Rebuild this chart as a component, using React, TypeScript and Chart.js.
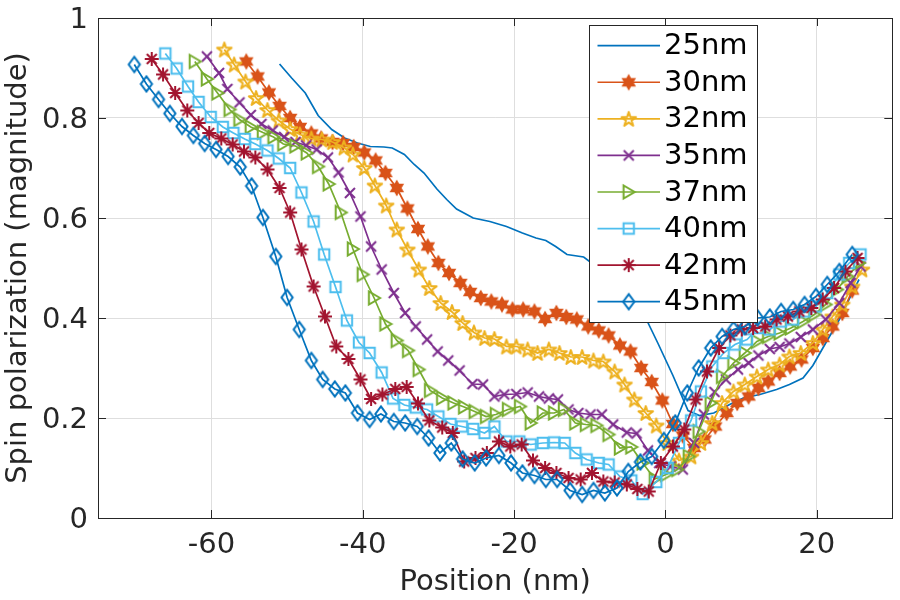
import React, { useEffect, useRef } from 'react';
import { Chart, registerables } from 'chart.js';

Chart.register(...registerables);

// ---------- data ----------
const seriesLabels = ['25nm', '30nm', '32nm', '35nm', '37nm', '40nm', '42nm', '45nm'];

const x25 = [-51.0, -49.4, -47.6, -45.9, -44.1, -42.4, -40.7, -39.0, -37.2, -36.1, -34.5, -33.2, -31.9, -30.2, -28.9, -27.6, -25.4, -23.2, -21.0, -18.9, -17.1, -15.8, -14.5, -13.0, -10.8, -8.0, -5.0, -2.7, -1.0, 1.0, 3.0, 4.5, 6.4, 8.5, 10.3, 12.5, 14.7, 16.4, 18.2, 19.5, 21.2, 23.0, 24.7, 25.6];
const y25 = [0.908, 0.88, 0.85, 0.805, 0.777, 0.76, 0.75, 0.743, 0.742, 0.74, 0.727, 0.707, 0.69, 0.658, 0.637, 0.618, 0.6, 0.593, 0.583, 0.57, 0.56, 0.555, 0.543, 0.527, 0.522, 0.49, 0.44, 0.403, 0.35, 0.285, 0.215, 0.205, 0.21, 0.227, 0.24, 0.247, 0.257, 0.267, 0.28, 0.305, 0.35, 0.397, 0.45, 0.477];

const x30 = [-55.4, -53.9, -52.4, -51.0, -49.6, -48.3, -46.8, -45.5, -44.0, -42.6, -41.2, -39.8, -38.3, -37.0, -35.5, -34.1, -32.7, -31.4, -30.0, -28.6, -27.1, -25.8, -24.4, -23.0, -21.6, -20.2, -18.8, -17.3, -15.9, -14.4, -13.1, -11.7, -10.2, -8.8, -7.5, -6.0, -4.6, -3.2, -1.8, -0.4, 1.0, 2.3, 3.8, 5.2, 6.6, 8.1, 9.5, 11.0, 12.3, 13.6, 15.1, 16.5, 18.0, 19.5, 20.8, 22.1, 23.4, 24.7];
const y30 = [0.913, 0.883, 0.851, 0.824, 0.8, 0.782, 0.769, 0.759, 0.752, 0.75, 0.742, 0.731, 0.715, 0.69, 0.66, 0.619, 0.578, 0.543, 0.51, 0.49, 0.47, 0.452, 0.44, 0.433, 0.427, 0.417, 0.417, 0.413, 0.398, 0.41, 0.402, 0.397, 0.383, 0.375, 0.365, 0.345, 0.333, 0.3, 0.272, 0.235, 0.188, 0.165, 0.14, 0.157, 0.183, 0.21, 0.23, 0.243, 0.26, 0.273, 0.29, 0.303, 0.317, 0.34, 0.36, 0.383, 0.41, 0.455];

const x32 = [-58.3, -57.0, -55.5, -54.1, -52.6, -51.1, -49.6, -48.3, -46.8, -45.4, -44.0, -42.5, -41.3, -39.8, -38.4, -36.9, -35.5, -34.1, -32.6, -31.2, -29.7, -28.2, -26.8, -25.3, -23.9, -22.6, -21.0, -19.7, -18.2, -16.9, -15.4, -14.0, -12.5, -11.0, -9.5, -8.2, -6.7, -5.4, -4.1, -2.6, -1.2, 0.3, 1.8, 3.4, 4.7, 6.2, 7.5, 9.0, 10.5, 12.1, 13.6, 15.1, 16.4, 17.9, 19.5, 20.8, 22.1, 23.4, 24.7, 26.0];
const y32 = [0.937, 0.907, 0.873, 0.84, 0.816, 0.795, 0.778, 0.767, 0.759, 0.757, 0.752, 0.741, 0.727, 0.7, 0.665, 0.625, 0.577, 0.537, 0.497, 0.46, 0.43, 0.412, 0.39, 0.371, 0.36, 0.358, 0.343, 0.343, 0.337, 0.33, 0.337, 0.33, 0.322, 0.322, 0.315, 0.313, 0.293, 0.267, 0.237, 0.21, 0.185, 0.15, 0.115, 0.123, 0.15, 0.19, 0.23, 0.253, 0.267, 0.283, 0.297, 0.307, 0.323, 0.33, 0.35, 0.377, 0.403, 0.427, 0.463, 0.497];

const x35 = [-60.6, -59.0, -57.9, -56.3, -54.8, -53.4, -51.9, -50.4, -48.9, -47.5, -46.1, -44.6, -43.2, -41.7, -40.3, -38.9, -37.5, -35.9, -34.4, -33.0, -31.5, -30.1, -28.7, -27.2, -25.5, -24.1, -22.6, -21.3, -19.7, -18.2, -16.7, -15.4, -14.2, -12.8, -11.5, -9.9, -8.4, -6.9, -5.1, -3.8, -2.3, -0.8, 0.7, 2.3, 3.8, 5.1, 6.5, 8.0, 9.6, 11.0, 12.3, 13.8, 15.1, 16.4, 17.9, 19.5, 21.2, 23.0, 24.5, 25.8];
const y35 = [0.923, 0.89, 0.858, 0.831, 0.806, 0.788, 0.775, 0.762, 0.752, 0.745, 0.737, 0.721, 0.691, 0.65, 0.603, 0.543, 0.497, 0.45, 0.41, 0.383, 0.357, 0.333, 0.315, 0.295, 0.268, 0.267, 0.243, 0.247, 0.248, 0.251, 0.243, 0.239, 0.237, 0.217, 0.21, 0.207, 0.207, 0.187, 0.171, 0.169, 0.135, 0.11, 0.103, 0.097, 0.15, 0.207, 0.252, 0.277, 0.297, 0.31, 0.325, 0.338, 0.342, 0.349, 0.362, 0.377, 0.397, 0.43, 0.47, 0.503];

const x37 = [-62.2, -60.6, -59.2, -57.6, -56.3, -54.8, -53.2, -51.8, -50.5, -48.9, -47.4, -45.9, -44.5, -42.9, -41.3, -40.0, -38.5, -37.0, -35.5, -34.0, -32.6, -31.1, -29.5, -28.0, -26.6, -25.2, -23.7, -22.4, -20.8, -19.2, -17.8, -16.2, -14.7, -13.4, -11.9, -10.5, -9.1, -7.5, -6.0, -4.5, -3.0, -1.4, 0.1, 1.6, 3.1, 4.4, 6.0, 7.5, 9.0, 10.5, 12.1, 13.6, 15.1, 16.6, 18.2, 19.7, 21.2, 22.7, 24.1, 25.6];
const y37 = [0.913, 0.878, 0.85, 0.817, 0.797, 0.782, 0.771, 0.762, 0.748, 0.744, 0.73, 0.703, 0.668, 0.611, 0.538, 0.487, 0.44, 0.388, 0.355, 0.335, 0.297, 0.255, 0.24, 0.23, 0.222, 0.213, 0.203, 0.207, 0.217, 0.223, 0.19, 0.21, 0.21, 0.217, 0.19, 0.187, 0.185, 0.167, 0.14, 0.142, 0.11, 0.078, 0.087, 0.097, 0.123, 0.173, 0.23, 0.283, 0.31, 0.33, 0.353, 0.363, 0.37, 0.38, 0.393, 0.407, 0.427, 0.457, 0.483, 0.51];

const x40 = [-66.1, -64.6, -63.1, -61.7, -60.1, -58.5, -57.1, -55.6, -54.2, -52.6, -51.1, -49.6, -48.1, -46.5, -45.1, -43.6, -42.1, -40.5, -39.1, -37.5, -36.0, -34.5, -33.0, -31.5, -30.0, -28.4, -26.9, -25.4, -23.9, -22.6, -21.0, -19.3, -17.8, -16.2, -14.7, -13.3, -11.9, -10.4, -8.8, -7.5, -6.0, -4.5, -3.0, -1.2, 0.3, 1.8, 3.4, 4.7, 6.2, 7.7, 9.2, 10.8, 12.3, 13.8, 15.3, 16.9, 18.4, 19.9, 21.4, 23.0, 24.3, 25.8];
const y40 = [0.929, 0.899, 0.863, 0.832, 0.802, 0.782, 0.77, 0.758, 0.748, 0.735, 0.719, 0.7, 0.651, 0.593, 0.527, 0.462, 0.395, 0.351, 0.33, 0.291, 0.239, 0.226, 0.221, 0.217, 0.203, 0.188, 0.183, 0.178, 0.17, 0.183, 0.153, 0.153, 0.147, 0.15, 0.151, 0.15, 0.13, 0.117, 0.11, 0.107, 0.083, 0.075, 0.048, 0.072, 0.1, 0.15, 0.195, 0.253, 0.303, 0.33, 0.347, 0.357, 0.38, 0.377, 0.393, 0.397, 0.413, 0.423, 0.45, 0.487, 0.51, 0.527];

const x42 = [-67.9, -66.4, -64.8, -63.2, -61.7, -60.3, -58.7, -57.2, -55.7, -54.2, -52.6, -51.0, -49.6, -48.1, -46.5, -45.0, -43.5, -41.9, -40.3, -38.9, -37.4, -35.7, -34.2, -32.7, -31.2, -29.5, -28.1, -26.6, -25.1, -23.6, -22.0, -20.5, -19.0, -17.5, -15.9, -14.4, -12.8, -11.2, -9.7, -8.2, -6.7, -5.1, -3.7, -2.2, -0.6, 1.0, 2.5, 4.0, 5.5, 7.1, 8.6, 10.1, 11.6, 13.2, 14.7, 16.2, 17.7, 19.3, 20.8, 22.3, 23.8, 25.4];
const y42 = [0.918, 0.887, 0.85, 0.815, 0.79, 0.77, 0.759, 0.747, 0.733, 0.721, 0.697, 0.66, 0.611, 0.537, 0.463, 0.403, 0.343, 0.318, 0.277, 0.238, 0.247, 0.258, 0.262, 0.229, 0.195, 0.181, 0.17, 0.113, 0.12, 0.13, 0.153, 0.143, 0.147, 0.115, 0.1, 0.09, 0.08, 0.077, 0.09, 0.073, 0.071, 0.067, 0.058, 0.053, 0.11, 0.143, 0.177, 0.237, 0.293, 0.34, 0.365, 0.377, 0.38, 0.383, 0.397, 0.403, 0.413, 0.42, 0.437, 0.46, 0.493, 0.52];

const x45 = [-70.2, -68.6, -67.0, -65.5, -63.9, -62.4, -60.9, -59.4, -57.8, -56.2, -54.7, -53.2, -51.5, -50.0, -48.4, -46.8, -45.3, -43.7, -42.3, -40.7, -39.1, -37.6, -35.9, -34.4, -32.8, -31.3, -29.8, -28.3, -26.8, -25.2, -23.7, -22.0, -20.4, -18.9, -17.3, -15.8, -14.3, -12.6, -11.0, -9.5, -8.0, -6.4, -4.9, -3.3, -1.8, -0.2, 1.3, 2.9, 4.4, 6.0, 7.5, 9.0, 10.5, 12.2, 13.8, 15.3, 16.9, 18.4, 19.9, 21.4, 23.0, 24.7];
const y45 = [0.907, 0.868, 0.837, 0.809, 0.783, 0.765, 0.749, 0.737, 0.723, 0.702, 0.664, 0.601, 0.523, 0.441, 0.377, 0.315, 0.277, 0.258, 0.25, 0.21, 0.197, 0.208, 0.193, 0.19, 0.183, 0.16, 0.13, 0.15, 0.118, 0.11, 0.12, 0.125, 0.11, 0.09, 0.085, 0.077, 0.077, 0.055, 0.047, 0.055, 0.05, 0.06, 0.093, 0.112, 0.123, 0.155, 0.19, 0.25, 0.3, 0.34, 0.363, 0.377, 0.383, 0.4, 0.402, 0.413, 0.417, 0.427, 0.443, 0.467, 0.493, 0.527];

const seriesX = [x25, x30, x32, x35, x37, x40, x42, x45];
const seriesY = [y25, y30, y32, y35, y37, y40, y42, y45];

const xTicks = [-60, -40, -20, 0, 20];
const yTicks = [0, 0.2, 0.4, 0.6, 0.8, 1];
const xRange = [-75, 30];
const yRange = [0, 1];
const xTitle = 'Position (nm)';
const yTitle = 'Spin polarization (magnitude)';

// ---------- styles ----------
const COLORS = ['#0072BD', '#D95319', '#EDB120', '#7E2F8E', '#77AC30', '#4DBEEE', '#A2142F', '#0072BD'];
const MARKERS = ['none', 'hexagram', 'pentagram', 'x', 'triRight', 'square', 'asterisk', 'diamond'];
const FONT = '"DejaVu Sans", "Liberation Sans", sans-serif';
const AX = '#262626';
const LINE_W = 1.7;
const MARK_W = 2.0;

function makeMarker(kind: string, color: string): HTMLCanvasElement | null {
  if (kind === 'none') return null;
  const S = 26;
  const c = document.createElement('canvas');
  c.width = S;
  c.height = S;
  const ctx = c.getContext('2d')!;
  ctx.translate(S / 2, S / 2);
  ctx.strokeStyle = color;
  ctx.fillStyle = color;
  ctx.lineWidth = MARK_W;
  ctx.lineJoin = 'miter';
  ctx.beginPath();
  if (kind === 'hexagram') {
    const R = 7.0, r = R / Math.sqrt(3);
    for (let k = 0; k < 12; k++) {
      const a = -Math.PI / 2 + (k * Math.PI) / 6;
      const rr = k % 2 === 0 ? R : r;
      const px = Math.cos(a) * rr, py = Math.sin(a) * rr;
      if (k === 0) ctx.moveTo(px, py); else ctx.lineTo(px, py);
    }
    ctx.closePath();
    ctx.lineWidth = 1.4;
    ctx.fill();
    ctx.stroke();
  } else if (kind === 'pentagram') {
    const R = 7.6, r = R * 0.382;
    for (let k = 0; k < 10; k++) {
      const a = -Math.PI / 2 + (k * Math.PI) / 5;
      const rr = k % 2 === 0 ? R : r;
      const px = Math.cos(a) * rr, py = Math.sin(a) * rr + 0.7;
      if (k === 0) ctx.moveTo(px, py); else ctx.lineTo(px, py);
    }
    ctx.closePath();
    ctx.lineJoin = 'round';
    ctx.stroke();
  } else if (kind === 'x') {
    const r = 5.0;
    ctx.moveTo(-r, -r); ctx.lineTo(r, r);
    ctx.moveTo(-r, r); ctx.lineTo(r, -r);
    ctx.stroke();
  } else if (kind === 'triRight') {
    ctx.moveTo(6.0, 0); ctx.lineTo(-5.2, -6.6); ctx.lineTo(-5.2, 6.6);
    ctx.closePath();
    ctx.stroke();
  } else if (kind === 'square') {
    ctx.rect(-5.2, -5.2, 10.4, 10.4);
    ctx.stroke();
  } else if (kind === 'asterisk') {
    const r = 7.0;
    for (let k = 0; k < 4; k++) {
      const a = (k * Math.PI) / 4;
      ctx.moveTo(-Math.cos(a) * r, -Math.sin(a) * r);
      ctx.lineTo(Math.cos(a) * r, Math.sin(a) * r);
    }
    ctx.stroke();
  } else if (kind === 'diamond') {
    ctx.moveTo(0, -7.6); ctx.lineTo(5.6, 0); ctx.lineTo(0, 7.6); ctx.lineTo(-5.6, 0);
    ctx.closePath();
    ctx.stroke();
  }
  return c;
}

export default function App() {
  const ref = useRef<HTMLCanvasElement | null>(null);

  useEffect(() => {
    document.body.style.margin = '0';
    const canvas = ref.current;
    if (!canvas) return;
    const markerImgs = MARKERS.map((m, i) => makeMarker(m, COLORS[i]));

    const boxPlugin = {
      id: 'matlabBox',
      afterDatasetsDraw(chart: any) {
        const { ctx, chartArea } = chart;
        const { left, right, top, bottom } = chartArea;
        const xs = chart.scales.x, ys = chart.scales.y;
        ctx.save();
        ctx.strokeStyle = AX;
        ctx.lineWidth = 1;
        const TL = 8;
        ctx.beginPath();
        xTicks.forEach((v) => {
          const p = Math.round(xs.getPixelForValue(v)) + 0.5;
          ctx.moveTo(p, bottom); ctx.lineTo(p, bottom - TL);
          ctx.moveTo(p, top); ctx.lineTo(p, top + TL);
        });
        yTicks.forEach((v) => {
          const p = Math.round(ys.getPixelForValue(v)) + 0.5;
          ctx.moveTo(left, p); ctx.lineTo(left + TL, p);
          ctx.moveTo(right, p); ctx.lineTo(right - TL, p);
        });
        ctx.stroke();
        ctx.strokeRect(Math.round(left) + 0.5, Math.round(top) + 0.5, Math.round(right - left), Math.round(bottom - top));
        ctx.restore();
      },
    };

    const legendPlugin = {
      id: 'matlabLegend',
      afterDraw(chart: any) {
        const { ctx, chartArea } = chart;
        const L = Math.round(chartArea.left + 491) + 0.5;
        const T = Math.round(chartArea.top + 7) + 0.5;
        const W = 168;
        const H = 297;
        ctx.save();
        ctx.fillStyle = '#ffffff';
        ctx.fillRect(L, T, W, H);
        ctx.strokeStyle = AX;
        ctx.lineWidth = 1;
        ctx.strokeRect(L, T, W, H);
        const step = 36.57;
        seriesLabels.forEach((lab, i) => {
          const cy = T + 20.2 + i * step;
          ctx.strokeStyle = COLORS[i];
          ctx.lineWidth = LINE_W;
          ctx.beginPath();
          ctx.moveTo(L + 8, cy);
          ctx.lineTo(L + 70.5, cy);
          ctx.stroke();
          const img = markerImgs[i];
          if (img) ctx.drawImage(img, L + 39.2 - img.width / 2, cy - img.height / 2);
          ctx.fillStyle = '#000000';
          ctx.font = `29px ${FONT}`;
          ctx.textAlign = 'left';
          ctx.textBaseline = 'middle';
          ctx.fillText(lab, L + 74.5, cy + 1);
        });
        ctx.restore();
      },
    };

    const chart = new Chart(canvas, {
      type: 'line',
      data: {
        datasets: seriesLabels.map((label, i) => ({
          label,
          data: seriesX[i].map((x, j) => ({ x, y: seriesY[i][j] })),
          borderColor: COLORS[i],
          backgroundColor: COLORS[i],
          borderWidth: LINE_W,
          pointStyle: (markerImgs[i] || 'circle') as any,
          pointRadius: markerImgs[i] ? 6 : 0,
          pointHoverRadius: markerImgs[i] ? 6 : 0,
          tension: 0,
          fill: false,
          order: seriesLabels.length - 1 - i,
        })),
      },
      options: {
        animation: false,
        responsive: false,
        maintainAspectRatio: false,
        events: [],
        layout: { padding: { top: 18, right: 1, left: 0, bottom: 0 } },
        plugins: {
          legend: { display: false },
          tooltip: { enabled: false },
        },
        scales: {
          x: {
            type: 'linear',
            min: xRange[0],
            max: xRange[1],
            afterBuildTicks: (scale: any) => {
              scale.ticks = xTicks.map((v) => ({ value: v }));
            },
            afterFit: (scale: any) => {
              scale.height = 82;
              scale.paddingLeft = 0;
              scale.paddingRight = 0;
            },
            ticks: {
              autoSkip: false,
              maxRotation: 0,
              padding: 10,
              color: AX,
              font: { family: FONT, size: 29 },
              callback: (v: any) => String(v),
            },
            grid: { color: '#dedede', lineWidth: 1, drawTicks: false },
            border: { display: false },
            title: {
              display: true,
              text: xTitle,
              color: AX,
              font: { family: FONT, size: 29 },
              padding: { top: 0, bottom: 0 },
            },
          },
          y: {
            type: 'linear',
            min: yRange[0],
            max: yRange[1],
            afterBuildTicks: (scale: any) => {
              scale.ticks = yTicks.map((v) => ({ value: v }));
            },
            afterFit: (scale: any) => {
              scale.width = 98;
              scale.paddingTop = 0;
              scale.paddingBottom = 0;
            },
            ticks: {
              autoSkip: false,
              padding: 10,
              labelOffset: 2.5,
              color: AX,
              font: { family: FONT, size: 29 },
              callback: (v: any) => String(v),
            },
            grid: { color: '#dedede', lineWidth: 1, drawTicks: false },
            border: { display: false },
            title: {
              display: true,
              text: yTitle,
              color: AX,
              font: { family: FONT, size: 29 },
              padding: { top: 1, bottom: 0 },
            },
          },
        },
      },
      plugins: [boxPlugin, legendPlugin],
    } as any);

    return () => {
      chart.destroy();
    };
  }, []);

  return (
    <div style={{ width: 900, height: 600 }}>
      <canvas ref={ref} width={900} height={600} style={{ display: 'block', width: 900, height: 600 }} />
    </div>
  );
}
